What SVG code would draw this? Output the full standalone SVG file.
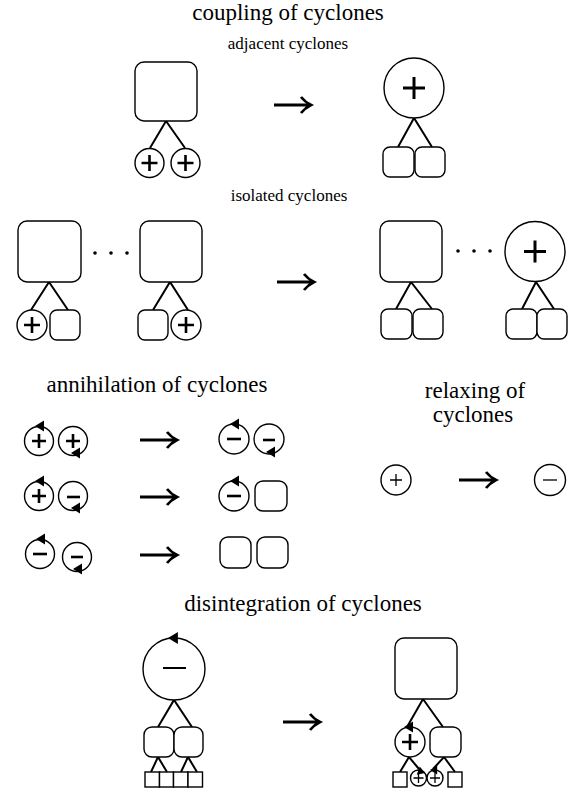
<svg xmlns="http://www.w3.org/2000/svg" xmlns:xlink="http://www.w3.org/1999/xlink" width="572" height="791" viewBox="0 0 572 791">
<style>
.shape{fill:#fff;stroke:#000;stroke-width:1.4}
.link{fill:none;stroke:#000;stroke-width:2}
.arrow{fill:none;stroke:#000;stroke-width:2.8}
.sign{stroke:#000;stroke-width:2.6;fill:none}
.big{stroke-width:3}
.thin{stroke-width:1.3}
.tri{fill:#000}
.dot{fill:#000}
text{font-family:"Liberation Serif","Times New Roman",serif;fill:#000;text-anchor:middle}
.h1{font-size:23px}
.h2{font-size:17px}
</style>
<defs>
<path id="arr" d="M0,0 H35 M27,-8 Q31,-3 37,0 Q31,3 27,8"/>
<path id="tri" d="M0,0 L9,-5.5 L9,5.5 Z"/>
</defs>
<rect width="572" height="791" fill="#fff"/>

<g id="titles">
<text class="h1" x="288" y="20">coupling of cyclones</text>
<text class="h2" x="288" y="49">adjacent cyclones</text>
<text class="h2" x="289" y="201">isolated cyclones</text>
<text class="h1" x="157" y="392">annihilation of cyclones</text>
<text class="h1" x="475" y="398">relaxing of</text>
<text class="h1" x="473" y="422">cyclones</text>
<text class="h1" x="303" y="611">disintegration of cyclones</text>
</g>

<g id="connectors">
<path class="link" d="M150,148 L166,121 L185,148"/>
<path class="link" d="M398,147 L414,118 L432,147"/>
<path class="link" d="M31,310 L49,282 L68,310"/>
<path class="link" d="M153,310 L170,282 L188,310"/>
<path class="link" d="M396,309 L411,282 L432,309"/>
<path class="link" d="M522,309 L536,282 L554,309"/>
<path class="link" d="M158,727 L174,700 L192,727"/>
<path class="link" d="M151,772 L158,757 L167,772 M181,772 L188,757 L197,772"/>
<path class="link" d="M407,727 L423,699 L443,727"/>
<path class="link" d="M400,772 L409,757 L419,769 M433,769 L444,757 L455,772"/>
<use href="#arr" class="arrow" transform="translate(274,105)"/>
<use href="#arr" class="arrow" transform="translate(277,282)"/>
<use href="#arr" class="arrow" transform="translate(140,440)"/>
<use href="#arr" class="arrow" transform="translate(140,497)"/>
<use href="#arr" class="arrow" transform="translate(140,555)"/>
<use href="#arr" class="arrow" transform="translate(459,480)"/>
<use href="#arr" class="arrow" transform="translate(283,722)"/>
</g>

<!-- adjacent -->
<g id="adj-parent"><rect class="shape" x="135" y="62" width="62" height="59" rx="9"/></g>
<g id="adj-c1"><circle class="shape" cx="149.5" cy="163" r="14.5"/><path class="sign" d="M141.5,163 H157.5 M149.5,155 V171"/></g>
<g id="adj-c2"><circle class="shape" cx="185.5" cy="163" r="14.5"/><path class="sign" d="M177.5,163 H193.5 M185.5,155 V171"/></g>
<g id="adj-result"><circle class="shape" cx="414" cy="88" r="30"/><path class="sign big" d="M403,88 H425 M414,77 V99"/></g>
<g id="adj-r1"><rect class="shape" x="383" y="147" width="31" height="30" rx="7"/></g>
<g id="adj-r2"><rect class="shape" x="415" y="147" width="30" height="30" rx="7"/></g>

<!-- isolated -->
<g id="iso-a"><rect class="shape" x="18" y="221" width="63" height="61" rx="9"/></g>
<g id="iso-a1"><circle class="shape" cx="32" cy="325" r="15"/><path class="sign" d="M24,325 H40 M32,317 V333"/></g>
<g id="iso-a2"><rect class="shape" x="50" y="310" width="30" height="30" rx="7"/></g>
<g id="iso-dots1"><circle class="dot" cx="95" cy="253" r="1.8"/><circle class="dot" cx="111" cy="253" r="1.8"/><circle class="dot" cx="127" cy="253" r="1.8"/></g>
<g id="iso-b"><rect class="shape" x="140" y="221" width="62" height="61" rx="9"/></g>
<g id="iso-b1"><rect class="shape" x="138" y="310" width="30" height="30" rx="7"/></g>
<g id="iso-b2"><circle class="shape" cx="186" cy="325" r="15"/><path class="sign" d="M178,325 H194 M186,317 V333"/></g>
<g id="iso-c"><rect class="shape" x="380" y="221" width="62" height="61" rx="9"/></g>
<g id="iso-c1"><rect class="shape" x="381" y="309" width="31" height="30" rx="7"/></g>
<g id="iso-c2"><rect class="shape" x="413" y="309" width="30" height="30" rx="7"/></g>
<g id="iso-dots2"><circle class="dot" cx="458" cy="251" r="1.8"/><circle class="dot" cx="474" cy="251" r="1.8"/><circle class="dot" cx="490" cy="251" r="1.8"/></g>
<g id="iso-d"><circle class="shape" cx="535" cy="251.5" r="30"/><path class="sign big" d="M524,251.5 H546 M535,240.5 V262.5"/></g>
<g id="iso-d1"><rect class="shape" x="506" y="309" width="31" height="30" rx="7"/></g>
<g id="iso-d2"><rect class="shape" x="537" y="309" width="30" height="30" rx="7"/></g>

<!-- annihilation -->
<g id="ann-1a"><circle class="shape" cx="39" cy="441" r="14.5"/><path class="sign" d="M32,441 H46 M39,434 V448"/><use href="#tri" class="tri" transform="translate(35,426)"/></g>
<g id="ann-1b"><circle class="shape" cx="73" cy="441" r="14.5"/><path class="sign" d="M66,441 H80 M73,434 V448"/><use href="#tri" class="tri" transform="translate(71,453)"/></g>
<g id="ann-2a"><circle class="shape" cx="39" cy="496" r="14.5"/><path class="sign" d="M32,496 H46 M39,489 V503"/><use href="#tri" class="tri" transform="translate(35,481)"/></g>
<g id="ann-2b"><circle class="shape" cx="73" cy="496" r="14.5"/><path class="sign" d="M67,497 H80"/><use href="#tri" class="tri" transform="translate(71,508)"/></g>
<g id="ann-3a"><circle class="shape" cx="40" cy="554" r="14.5"/><path class="sign" d="M33,554 H47"/><use href="#tri" class="tri" transform="translate(36,539)"/></g>
<g id="ann-3b"><circle class="shape" cx="77" cy="557" r="14.5"/><path class="sign" d="M71,557 H83"/><use href="#tri" class="tri" transform="translate(73,569)"/></g>
<g id="ann-r1a"><circle class="shape" cx="234" cy="439" r="15"/><path class="sign" d="M227,439 H241"/><use href="#tri" class="tri" transform="translate(230,424)"/></g>
<g id="ann-r1b"><circle class="shape" cx="269" cy="439" r="15"/><path class="sign" d="M263,440 H275"/><use href="#tri" class="tri" transform="translate(266,452)"/></g>
<g id="ann-r2a"><circle class="shape" cx="234" cy="496" r="15"/><path class="sign" d="M227,496 H241"/><use href="#tri" class="tri" transform="translate(230,481)"/></g>
<g id="ann-r2b"><rect class="shape" x="255" y="481" width="32" height="30" rx="8"/></g>
<g id="ann-r3a"><rect class="shape" x="220" y="537" width="31" height="31" rx="8"/></g>
<g id="ann-r3b"><rect class="shape" x="257" y="537" width="31" height="31" rx="8"/></g>

<!-- relaxing -->
<g id="rel-a"><circle class="shape" cx="396" cy="480" r="15"/><path class="sign thin" d="M390,480 H402 M396,474 V486"/></g>
<g id="rel-b"><circle class="shape" cx="550" cy="480" r="15.5"/><path class="sign thin" d="M543,480 H557"/></g>

<!-- disintegration -->
<g id="dis-a"><circle class="shape" cx="174" cy="669" r="31"/><path class="sign" style="stroke-width:2" d="M163,668 H186"/><use href="#tri" class="tri" transform="translate(168,638) scale(1.1)"/></g>
<g id="dis-a1"><rect class="shape" x="144" y="727" width="30" height="30" rx="8"/></g>
<g id="dis-a2"><rect class="shape" x="174" y="727" width="29" height="30" rx="8"/></g>
<g id="dis-a-sq1"><rect class="shape" x="145" y="772" width="14.5" height="15"/></g>
<g id="dis-a-sq2"><rect class="shape" x="159.5" y="772" width="14" height="15"/></g>
<g id="dis-a-sq3"><rect class="shape" x="173.5" y="772" width="14.5" height="15"/></g>
<g id="dis-a-sq4"><rect class="shape" x="188" y="772" width="14.5" height="15"/></g>
<g id="dis-b"><rect class="shape" x="395" y="638" width="62" height="61" rx="9"/></g>
<g id="dis-b1"><circle class="shape" cx="410" cy="742" r="15"/><path class="sign" d="M402,742 H418 M410,734 V750"/><use href="#tri" class="tri" transform="translate(404,727)"/></g>
<g id="dis-b2"><rect class="shape" x="430" y="727" width="31" height="30" rx="8"/></g>
<g id="dis-b-sq1"><rect class="shape" x="393" y="772" width="14" height="15"/></g>
<g id="dis-b-m1"><circle class="shape" cx="418.5" cy="778" r="8"/><path class="sign thin" d="M413.5,778 H423.5 M418.5,773 V783"/><use href="#tri" class="tri" transform="translate(425,773) rotate(200) scale(0.8)"/></g>
<g id="dis-b-m2"><circle class="shape" cx="435" cy="778" r="8"/><path class="sign thin" d="M430,778 H440 M435,773 V783"/><use href="#tri" class="tri" transform="translate(430,770) scale(0.8)"/></g>
<g id="dis-b-sq2"><rect class="shape" x="448" y="772" width="14" height="15"/></g>
</svg>
